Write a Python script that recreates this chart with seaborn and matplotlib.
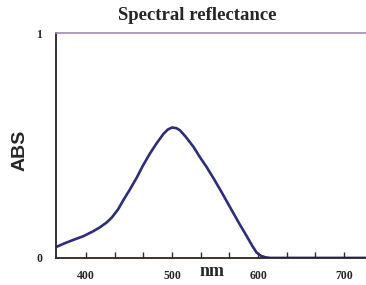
import matplotlib
matplotlib.use("Agg")
import matplotlib.pyplot as plt
import numpy as np
import pandas as pd
import seaborn as sns

# values
wavelength = [366, 375, 385, 397, 408, 416, 424, 430, 437, 443, 451, 459, 466, 474,
              482, 490, 495, 500, 505, 509, 516, 525, 532, 540, 548, 556, 567, 577,
              587, 593, 598, 603, 608, 614, 622, 650, 700, 725]
absorbance = [0.05, 0.065, 0.08, 0.097, 0.118, 0.136, 0.158, 0.18, 0.215, 0.255,
              0.305, 0.358, 0.41, 0.463, 0.51, 0.552, 0.571, 0.58, 0.577, 0.568,
              0.538, 0.493, 0.45, 0.405, 0.355, 0.303, 0.228, 0.16, 0.095, 0.055,
              0.025, 0.01, 0.003, 0.0, 0.0, 0.0, 0.0, 0.0]
x_ticks = [400, 500, 600, 700]
y_ticks = [0, 1]

df = pd.DataFrame({"nm": wavelength, "ABS": absorbance})

sns.set_style("ticks")
fig = plt.figure(figsize=(3.66, 2.85), dpi=100)
ax = fig.add_axes([0.153, 0.095, 0.846, 0.789])

sns.lineplot(data=df, x="nm", y="ABS", ax=ax, color="#2e2c7c", linewidth=1.9)

ax.set_xlim(365, 725)
ax.set_ylim(0, 1)

serif = ["Liberation Serif", "DejaVu Serif"]
ax.set_xticks(x_ticks)
ax.set_xticklabels([str(t) for t in x_ticks], family=serif, fontweight="bold", fontsize=8.5)
ax.set_xticks(np.arange(400, 726, 100 / 3), minor=True)
ax.tick_params(axis="x", which="both", direction="in", length=4, width=1,
               color="#3a2a20", pad=9)
ax.set_yticks(y_ticks)
ax.set_yticklabels([str(t) for t in y_ticks], family=serif, fontweight="bold", fontsize=8.5)
ax.tick_params(axis="y", length=0, pad=10)

ax.spines["right"].set_visible(False)
ax.spines["top"].set_color("#a08cac")
ax.spines["top"].set_linewidth(1.2)
ax.spines["left"].set_color("#222222")
ax.spines["left"].set_linewidth(1.3)
ax.spines["bottom"].set_color("#2a2420")
ax.spines["bottom"].set_linewidth(1.3)

ax.set_xlabel("")
ax.set_ylabel("")
fig.text(20 / 366, 1 - 150 / 285, "ABS", family="Liberation Sans", fontweight="bold",
         fontsize=14, rotation=90, ha="center", va="center")
ax.text(0.505, -0.062, "nm", transform=ax.transAxes, family=serif, fontweight="bold",
        fontsize=13, ha="center", va="center")
fig.text(0.538, 0.947, "Spectral reflectance", family=serif, fontweight="bold",
         fontsize=13.5, ha="center", va="center")

fig.savefig("out.png", dpi=100)
